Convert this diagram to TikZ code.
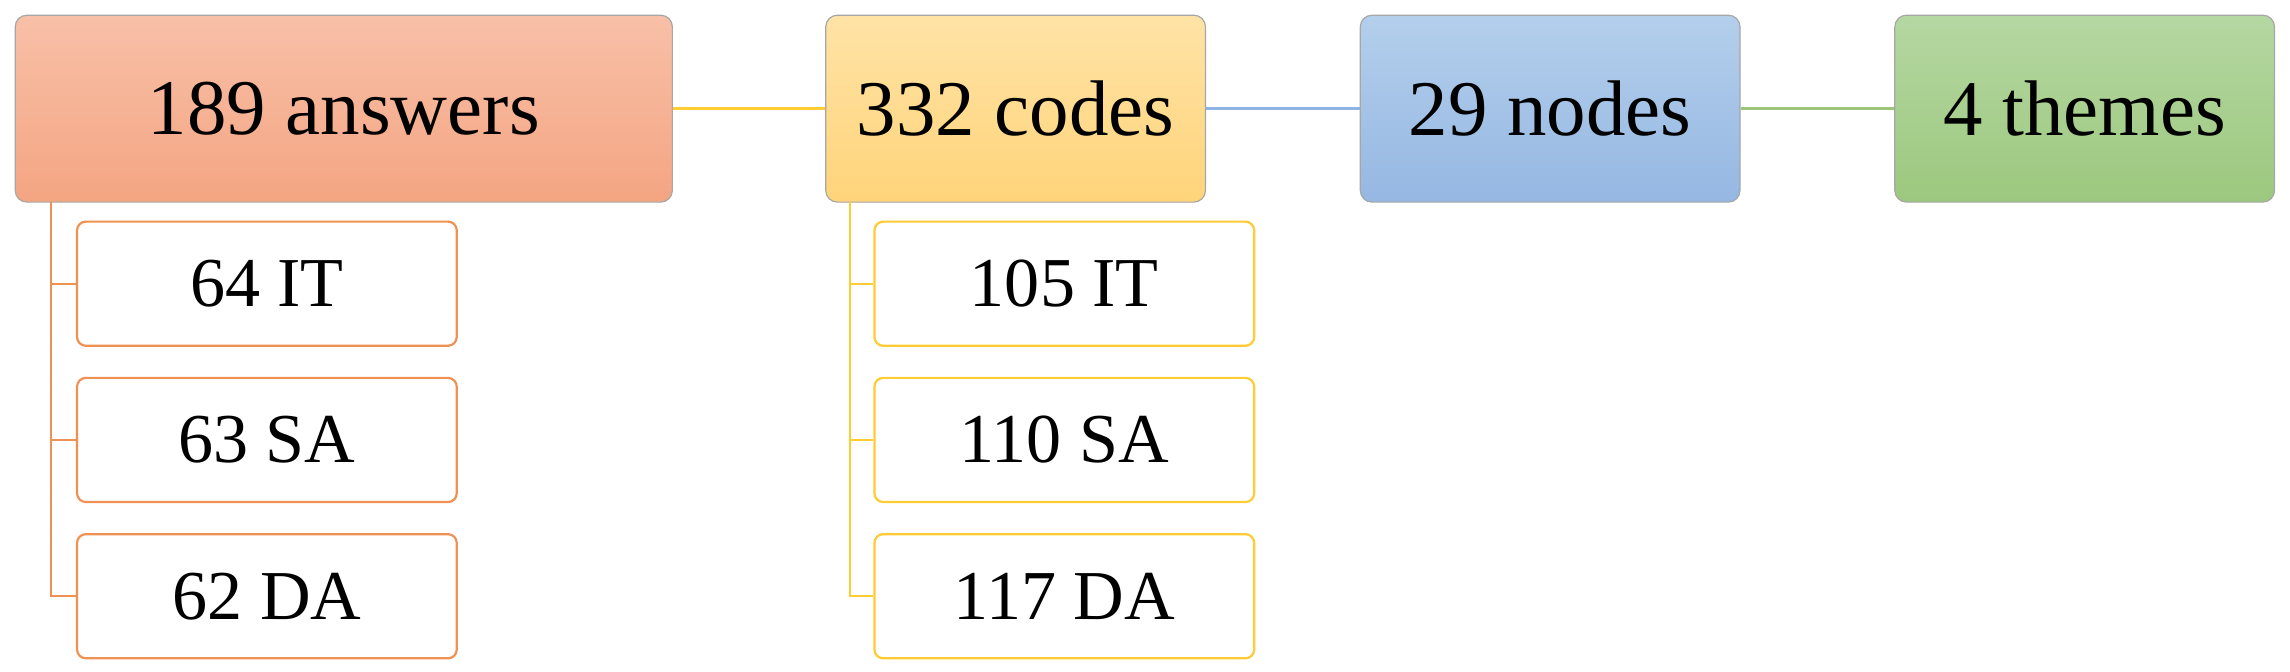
\documentclass[tikz,border=0pt]{standalone}
\usepackage{fontspec}
\setmainfont{Liberation Serif}
\definecolor{o1}{HTML}{F8C0A8}\definecolor{o2}{HTML}{F4A582}
\definecolor{y1}{HTML}{FFE3A6}\definecolor{y2}{HTML}{FFD47A}
\definecolor{b1}{HTML}{B4CFEC}\definecolor{b2}{HTML}{95B7E2}
\definecolor{g1}{HTML}{B5D7A2}\definecolor{g2}{HTML}{9CC87E}
\definecolor{oline}{HTML}{EE9152}\definecolor{yline}{HTML}{FFCC33}
\definecolor{bline}{HTML}{8DB4E2}\definecolor{gline}{HTML}{9BC67A}
\begin{document}
\begin{tikzpicture}[x=1pt,y=-1pt,
 main/.style={draw=gray!70,line width=0.8pt,rounded corners=8pt,minimum height=128pt,font=\fontsize{54}{60}\selectfont,anchor=north west,inner sep=0pt},
 sub/.style={draw=#1,line width=1.5pt,fill=white,rounded corners=6pt,minimum width=260pt,minimum height=85pt,font=\fontsize{48}{54}\selectfont,anchor=north west,inner sep=0pt}]
\useasboundingbox (0,0) rectangle (1568,460);
\node[main,minimum width=450pt,top color=o1,bottom color=o2] (a) at (10,10) {189 answers};
\node[main,minimum width=260pt,top color=y1,bottom color=y2] (c) at (565,10) {332 codes};
\node[main,minimum width=260pt,top color=b1,bottom color=b2] (n) at (931,10) {29 nodes};
\node[main,minimum width=260pt,top color=g1,bottom color=g2] (t) at (1297,10) {4 themes};
\draw[yline,line width=2pt] (a) -- (c);
\draw[bline,line width=2pt] (c) -- (n);
\draw[gline,line width=2pt] (n) -- (t);
\node[sub=oline] (a1) at (52,151) {64 IT};
\node[sub=oline] (a2) at (52,258) {63 SA};
\node[sub=oline] (a3) at (52,365) {62 DA};
\node[sub=yline] (c1) at (598,151) {105 IT};
\node[sub=yline] (c2) at (598,258) {110 SA};
\node[sub=yline] (c3) at (598,365) {117 DA};
\coordinate (at) at (35,138);
\coordinate (ct) at (582,138);
\draw[oline,line width=1.5pt] (at) |- (a1.west);
\draw[oline,line width=1.5pt] (at) |- (a2.west);
\draw[oline,line width=1.5pt] (at) |- (a3.west);
\draw[yline,line width=1.5pt] (ct) |- (c1.west);
\draw[yline,line width=1.5pt] (ct) |- (c2.west);
\draw[yline,line width=1.5pt] (ct) |- (c3.west);
\end{tikzpicture}
\end{document}
